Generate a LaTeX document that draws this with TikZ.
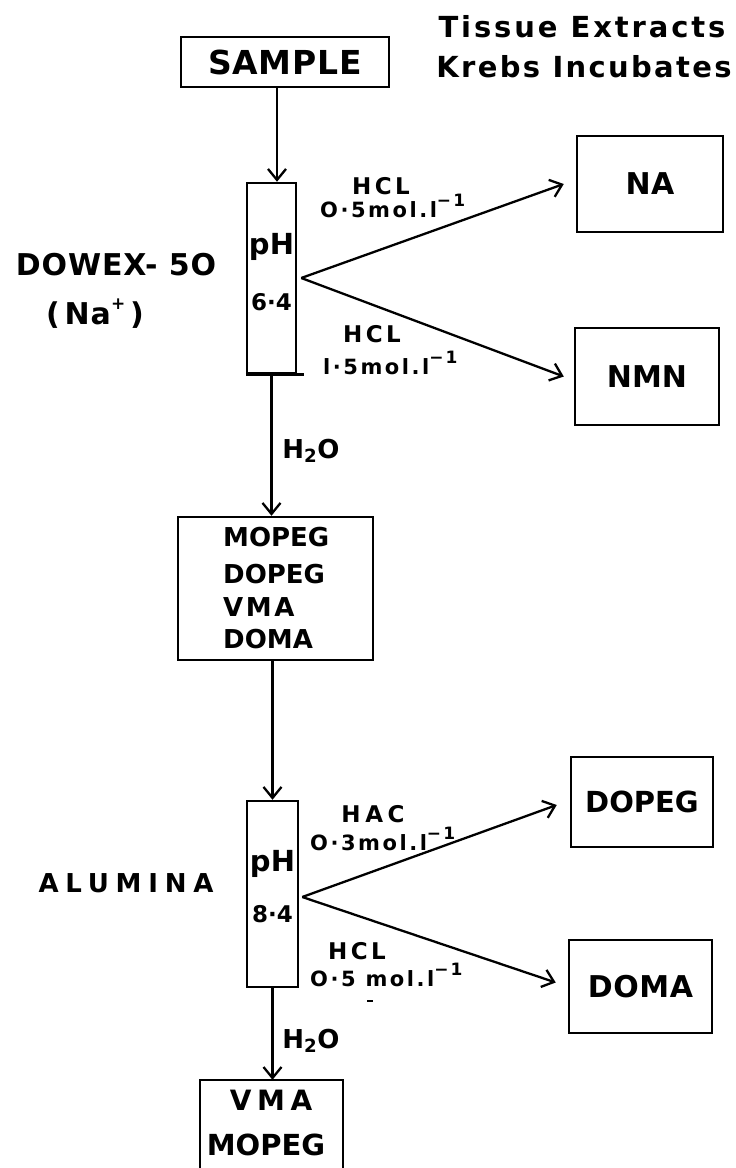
\documentclass[tikz,border=0pt]{standalone}
\usepackage{fontspec}
\setmainfont{DejaVu Sans}
\usetikzlibrary{arrows.meta,calc}
\newcommand{\fz}[2]{\fontsize{#1}{#1}\selectfont\bfseries\addfontfeature{LetterSpace=#2}}
\newcommand{\mysup}[1]{\raisebox{0.5em}{\fontsize{17}{17}\selectfont\bfseries #1}}
\begin{document}
\begin{tikzpicture}[x=1pt,y=-1pt,
  lw/.style={line width=2.5pt},
  box/.style={draw,line width=2.5pt,inner sep=0pt},
  conn/.style={line width=2.3pt,-{Straight Barb[length=11pt,width=18pt,line width=2.3pt]}},
  txt/.style={inner sep=0pt}
]
\useasboundingbox (0,0) rectangle (736,1168);
\clip (0,0) rectangle (736,1168);
\fill[white] (0,0) rectangle (736,1168);

% top
\node[box, minimum width=208pt, minimum height=50pt, font=\fz{33}{2}] (sample) at (285,62) {SAMPLE};
\node[txt, font=\fz{29}{10}] (tissue) at (582,27) {Tissue Extracts};
\node[txt, font=\fz{29}{8}] (krebs) at (584,67) {Krebs Incubates};

% column 1
\node[box, minimum width=49pt, minimum height=190pt] (col1) at (271.5,278) {};
\draw[lw] (col1.south west) -- ([xshift=7pt]col1.south east);
\node[txt, anchor=base, font=\fz{29}{0}] (ph1) at (271.5,254) {pH};
\node[txt, font=\fz{23}{0}] (pv1) at (271.5,302) {6·4};
\node[txt, font=\fz{30}{3}] (dowex) at (116,265) {DOWEX- 5O};
\node[txt, anchor=base, font=\fz{30}{3}] (nap) at (95,324) {(\,Na\mysup{+}\,)};

\coordinate (s1) at ([xshift=-8pt]sample.south);
\draw[conn] (s1) -- (s1 |- col1.north);

\node[box, minimum width=146pt, minimum height=96pt, font=\fz{30}{2}] (NA) at (650,184) {NA};
\node[box, minimum width=144pt, minimum height=97pt, font=\fz{30}{0}] (NMN) at (647,376.5) {NMN};
\draw[conn] ([xshift=4pt]col1.east) -- ([xshift=-12pt]NA.west);
\draw[conn] ([xshift=4pt]col1.east) -- ([xshift=-10pt]NMN.west);

\node[txt, anchor=base, font=\fz{23}{15}] (hcl1) at (381,194) {HCL};
\node[txt, anchor=base west, font=\fz{21}{12}] (c1) at (320,217) {O·5mol.l\mysup{−1}};
\node[txt, anchor=base, font=\fz{23}{15}] (hcl2) at (372,342) {HCL};
\node[txt, anchor=base west, font=\fz{21}{12}] (c2) at (323,374) {l·5mol.l\mysup{−1}};

% mixture box
\node[box, minimum width=195pt, minimum height=143pt] (mix) at (275.5,588.5) {};
\draw[conn] (col1.south) -- (col1.south |- mix.north);
\node[txt, anchor=base, font=\fz{26}{0}] (h2o1) at (311,458) {H\textsubscript{2}O};
\node[txt, anchor=west, font=\fz{26}{0}] (m1) at (223,537) {MOPEG};
\node[txt, anchor=west, font=\fz{26}{0}] (m2) at (223,574) {DOPEG};
\node[txt, anchor=west, font=\fz{26}{10}] (m3) at (223,607) {VMA};
\node[txt, anchor=west, font=\fz{26}{0}] (m4) at (223,639) {DOMA};

% column 2
\node[box, minimum width=51pt, minimum height=186pt] (col2) at (272.5,894) {};
\draw[conn] (mix.south -| col2.north) -- (col2.north);
\node[txt, anchor=base, font=\fz{29}{0}] (ph2) at (272.5,871) {pH};
\node[txt, font=\fz{23}{0}] (pv2) at (272.5,914) {8·4};
\node[txt, font=\fz{26}{26}] (alumina) at (126,883) {ALUMINA};

\node[box, minimum width=142pt, minimum height=90pt, font=\fz{29}{0}] (DOPEG) at (642,802) {DOPEG};
\node[box, minimum width=143pt, minimum height=93pt, font=\fz{30}{2}] (DOMA) at (640.5,986.5) {DOMA};
\draw[conn] ([xshift=3pt,yshift=-3pt]col2.east) -- ([xshift=-13pt,yshift=-3pt]DOPEG.west);
\draw[conn] ([xshift=3pt,yshift=-3pt]col2.east) -- ([xshift=-12pt,yshift=4pt]DOMA.west);

\node[txt, anchor=base, font=\fz{23}{20}] (hac) at (373,822) {HAC};
\node[txt, anchor=base west, font=\fz{21}{12}] (c3) at (310,850) {O·3mol.l\mysup{−1}};
\node[txt, anchor=base, font=\fz{23}{15}] (hcl3) at (357,959) {HCL};
\node[txt, anchor=base west, font=\fz{21}{12}] (c4) at (310,986) {O·5 mol.l\mysup{−1}};
\draw[line width=2pt] (367,1001) -- (373,1001);

% final box (open at bottom edge of picture)
\node[minimum width=143pt, minimum height=88pt, inner sep=0pt] (fin) at (271.5,1124) {};
\draw[lw] (fin.south west) -- (fin.north west) -- (fin.north east) -- (fin.south east);
\draw[conn] (col2.south) -- (col2.south |- fin.north);
\node[txt, anchor=base, font=\fz{26}{0}] (h2o2) at (311,1048) {H\textsubscript{2}O};
\node[txt, font=\fz{28}{20}] (f1) at (271,1100) {VMA};
\node[txt, font=\fz{29}{0}] (f2) at (266,1145) {MOPEG};
\end{tikzpicture}
\end{document}
